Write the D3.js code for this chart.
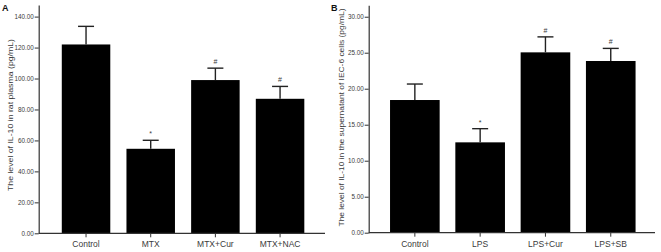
<!DOCTYPE html>
<html><head><meta charset="utf-8">
<script src="https://cdn.jsdelivr.net/npm/d3@7"></script>
<style>body{margin:0;background:#fff}svg{display:block;font-family:"Liberation Sans",Arial,sans-serif}</style>
</head><body><svg id="c" width="661" height="252"></svg>
<script>
const catsA = ["Control","MTX","MTX+Cur","MTX+NAC"];
const valsA = [122.0, 54.6, 99.0, 86.9];
const errA  = [11.7, 5.5, 7.7, 8.0];
const marksA = ["", "*", "#", "#"];
const ticksA = [0,20,40,60,80,100,120,140];
const titleA = "The level of IL-10 in rat plasma (pg/mL)";

const catsB = ["Control","LPS","LPS+Cur","LPS+SB"];
const valsB = [18.43, 12.55, 25.05, 23.85];
const errB  = [2.22, 1.9, 2.15, 1.75];
const marksB = ["", "*", "#", "#"];
const ticksB = [0,5,10,15,20,25,30];
const titleB = "The level of IL-10 in the supernatant of IEC-6 cells (pg/mL)";

const svg = d3.select("#c");
const axisCol = "#333";
const textCol = "#3a3a3a";

function panel(cfg){
  const g = svg.append("g");
  const y = d3.scaleLinear().domain(cfg.ydom).range([cfg.y0, cfg.ytop]);
  const x = d3.scaleBand().domain(cfg.cats).range(cfg.xr).paddingInner(cfg.pad).paddingOuter(cfg.pad/2);
  g.selectAll("rect.bar").data(cfg.vals).enter().append("rect")
    .attr("x",(d,i)=>x(cfg.cats[i])).attr("width",x.bandwidth())
    .attr("y",d=>y(d)).attr("height",d=>y(0)-y(d)).attr("fill","#000");
  cfg.vals.forEach((v,i)=>{
    const cx = x(cfg.cats[i]) + x.bandwidth()/2;
    const top = y(v+cfg.err[i]);
    g.append("line").attr("x1",cx).attr("x2",cx).attr("y1",y(v)).attr("y2",top)
      .attr("stroke","#222").attr("stroke-width",1.4);
    g.append("line").attr("x1",cx-8).attr("x2",cx+8).attr("y1",top).attr("y2",top)
      .attr("stroke","#222").attr("stroke-width",1.4);
    if (cfg.marks[i]) g.append("text").attr("x",cx).attr("y",top-4).attr("text-anchor","middle")
      .attr("font-size",7).attr("fill",textCol).text(cfg.marks[i]);
  });
  const ya = g.append("g").attr("transform",`translate(${cfg.xaxis},0)`)
    .call(d3.axisLeft(y).tickValues(cfg.ticks).tickFormat(d3.format(".2f")).tickSize(4).tickSizeOuter(0).tickPadding(1));
  ya.select(".domain").attr("stroke",axisCol).attr("stroke-width",1.2);
  ya.selectAll(".tick line").attr("stroke",axisCol);
  ya.selectAll(".tick text").attr("font-size",6.3).attr("fill",textCol).attr("font-family","Liberation Sans, Arial, sans-serif");
  const xa = g.append("g").attr("transform",`translate(0,${cfg.y0})`)
    .call(d3.axisBottom(x).tickSize(4).tickSizeOuter(0).tickPadding(4));
  xa.select(".domain").attr("d",`M${cfg.xaxis},0H${cfg.xend}`).attr("stroke",axisCol).attr("stroke-width",1.2);
  xa.selectAll(".tick line").attr("stroke",axisCol);
  xa.selectAll(".tick text").attr("font-size",8.5).attr("fill",textCol).attr("font-family","Liberation Sans, Arial, sans-serif");
  g.append("text").attr("transform",`translate(${cfg.tx},${cfg.ty}) rotate(-90)`)
    .attr("text-anchor","middle").attr("font-size",cfg.tfs).attr("fill",textCol)
    .attr("textLength",cfg.tlen).attr("lengthAdjust","spacingAndGlyphs").text(cfg.title);
  g.append("text").attr("x",cfg.lx).attr("y",11).attr("font-size",9).attr("font-weight","bold").attr("fill","#111").text(cfg.label);
}

panel({cats:catsA, vals:valsA, err:errA, marks:marksA, ticks:ticksA, title:titleA,
  ydom:[0,147.5], y0:233.3, ytop:5, xr:[53.7,312.4], pad:0.25, xaxis:38.7, xend:325,
  tx:12.5, ty:115, tlen:152, tfs:8, lx:2, label:"A"});
panel({cats:catsB, vals:valsB, err:errB, marks:marksB, ticks:ticksB, title:titleB,
  ydom:[0,31.6], y0:232.7, ytop:5.2, xr:[382.2,643.4], pad:0.24, xaxis:368.7, xend:655,
  tx:343.5, ty:117.5, tlen:218, tfs:8, lx:331, label:"B"});
</script></body></html>
